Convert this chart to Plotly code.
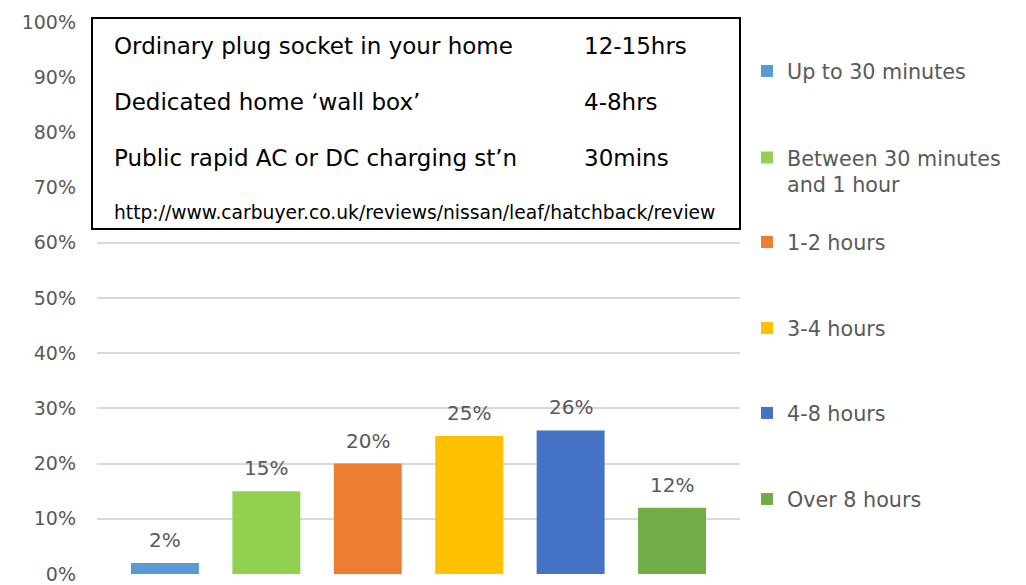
import plotly.graph_objects as go

categories = ["Up to 30 minutes", "Between 30 minutes<br>and 1 hour", "1-2 hours",
              "3-4 hours", "4-8 hours", "Over 8 hours"]
values = [2, 15, 20, 25, 26, 12]
colors = ["#5B9BD5", "#92D050", "#ED7D31", "#FFC000", "#4472C4", "#70AD47"]
ytick_vals = [0, 10, 20, 30, 40, 50, 60, 70, 80, 90, 100]
ytick_text = [f"{v}%" for v in ytick_vals]

box_rows = [("Ordinary plug socket in your home", "12-15hrs"),
            ("Dedicated home \u2018wall box\u2019", "4-8hrs"),
            ("Public rapid AC or DC charging st\u2019n", "30mins")]
box_url = "http://www.carbuyer.co.uk/reviews/nissan/leaf/hatchback/review"

FONT = "DejaVu Sans"
W, H = 1026, 585
ML, MR, MT, MB = 97, 286, 22, 11
PW, PH = W - ML - MR, H - MT - MB


def px_x(px):
    return (px - ML) / PW


def px_y(py):
    return (H - MB - py) / PH


legend_centers = [71, 171, 242, 328, 413, 499]

fig = go.Figure()
legend_layouts = {}
for i, (cat, val, col) in enumerate(zip(categories, values, colors)):
    lname = "legend" if i == 0 else f"legend{i + 1}"
    fig.add_trace(go.Bar(
        x=[i], y=[val], name=cat, marker=dict(color=col, line=dict(width=0)),
        width=0.67, legend=lname, hoverinfo="skip",
    ))
    legend_layouts[lname] = dict(
        x=px_x(747), y=px_y(legend_centers[i]), xanchor="left", yanchor="middle",
        font=dict(family=FONT, size=20.7, color="#595959"),
        valign="top", itemwidth=30, bgcolor="rgba(0,0,0,0)",
    )
    fig.add_annotation(x=i, y=val, text=f"{val}%", showarrow=False,
                       yanchor="bottom", yshift=9,
                       font=dict(family=FONT, size=20, color="#595959"))

fig.add_shape(type="rect", xref="paper", yref="paper",
              x0=px_x(92), x1=px_x(740), y0=px_y(229), y1=px_y(18),
              line=dict(color="black", width=2), fillcolor="white", layer="above")

row_y = [46, 102, 158]
for (left, right), py in zip(box_rows, row_y):
    fig.add_annotation(xref="paper", yref="paper", x=px_x(112), y=px_y(py),
                       text=left, showarrow=False, xanchor="left", yanchor="middle",
                       font=dict(family=FONT, size=23, color="black"))
    fig.add_annotation(xref="paper", yref="paper", x=px_x(582), y=px_y(py),
                       text=right, showarrow=False, xanchor="left", yanchor="middle",
                       font=dict(family=FONT, size=23, color="black"))
fig.add_annotation(xref="paper", yref="paper", x=px_x(112), y=px_y(212),
                   text=box_url, showarrow=False, xanchor="left", yanchor="middle",
                   font=dict(family=FONT, size=18.7, color="black"))

fig.update_layout(
    width=W, height=H,
    margin=dict(l=ML, r=MR, t=MT, b=MB, pad=0, autoexpand=False),
    paper_bgcolor="white", plot_bgcolor="white",
    barmode="overlay",
    showlegend=True,
    xaxis=dict(range=[-0.67, 5.67], showticklabels=False, showgrid=False,
               zeroline=False, showline=False, fixedrange=True, automargin=False),
    yaxis=dict(range=[0, 100], tickvals=ytick_vals, ticktext=ytick_text,
               showgrid=True, gridcolor="#D9D9D9", gridwidth=1.5,
               zeroline=False, showline=False, ticks="",
               ticklabelstandoff=20, automargin=False,
               tickfont=dict(family=FONT, size=19, color="#595959")),
    font=dict(family=FONT),
    **legend_layouts,
)

fig.write_html("out.html", config={"displayModeBar": False},
               post_script="document.body.style.margin='0';document.body.style.padding='0';")
